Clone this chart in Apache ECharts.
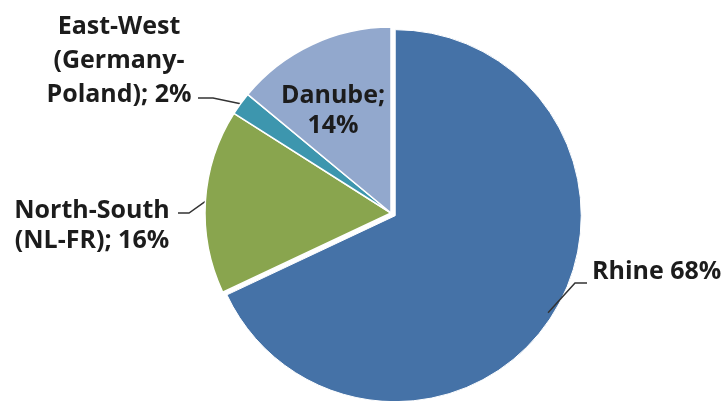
<!DOCTYPE html>
<html>
<head>
<meta charset="utf-8">
<script src="https://cdn.jsdelivr.net/npm/echarts@6/dist/echarts.min.js"></script>
<style>
  html, body { margin: 0; padding: 0; background: #fff; }
  #chart { width: 727px; height: 401px; }
</style>
</head>
<body>
<div id="chart"></div>
<script>
// corridors, clockwise from 12 o'clock
const corridors = ['Rhine', 'North-South', 'East-West', 'Danube']
const shares = [68, 16, 2, 14]
const labelTexts = [
  'Rhine 68%',
  'North-South\n(NL-FR); 16%',
  'East-West\n(Germany-\nPoland); 2%',
  'Danube;\n14%'
]
const colors = ['#4572A7', '#89A54E', '#3D96AE', '#92A8CD']

// where the labels sit and where their leader line ends
const labelSpots = [
  { x: 592, y: 272, align: 'left', end: [587, 283], turn: 12, lh: 30 },
  { x: 92, y: 226, align: 'center', end: [178, 213], turn: -11, lh: 30 },
  { x: 119, y: 61, align: 'center', end: [198, 98], turn: -15, lh: 34 },
  { x: 333, y: 111, align: 'center', lh: 30 }
]

const center = [391, 213]
const radius = 186
// Rhine slice is pulled out a little along its middle angle
const explode = 5
const total = shares.reduce((a, b) => a + b, 0)
const rhineMid = (90 - shares[0] / total * 180) * Math.PI / 180
const rhineCenter = [center[0] + explode * Math.cos(rhineMid), center[1] - explode * Math.sin(rhineMid)]

const chart = echarts.init(document.getElementById('chart'))

const base = {
  type: 'pie',
  radius: radius,
  startAngle: 90,
  clockwise: true,
  avoidLabelOverlap: false
}

chart.setOption({
  animation: false,
  series: [Object.assign({}, base, {
    center: center,
    z: 2,
    label: {
      show: true,
      position: 'outside',
      color: '#1c1c1c',
      fontFamily: 'Open Sans',
      fontWeight: 'bold',
      fontSize: 25,
      formatter: p => labelTexts[p.dataIndex]
    },
    labelLine: {
      show: true,
      length: 10,
      length2: 10,
      lineStyle: { color: '#333', width: 1.5 }
    },
    labelLayout: function (params) {
      const s = labelSpots[params.dataIndex]
      const out = { x: s.x, y: s.y, align: s.align, verticalAlign: 'middle' }
      if (s.end && params.labelLinePoints) {
        const start = params.labelLinePoints[0]
        out.labelLinePoints = [
          start,
          [s.end[0] - s.turn, s.end[1]],
          s.end
        ]
      }
      return out
    },
    data: corridors.map((name, i) => ({
      name: name,
      value: shares[i],
      itemStyle: i === 0
        ? { color: 'transparent', borderWidth: 0 }
        : { color: colors[i], borderColor: '#fff', borderWidth: 1.5 },
      label: { lineHeight: labelSpots[i].lh },
      labelLine: { show: i !== 3 }
    }))
  }), Object.assign({}, base, {
    center: rhineCenter,
    z: 1,
    silent: true,
    label: { show: false },
    labelLine: { show: false },
    data: corridors.map((name, i) => ({
      name: name,
      value: shares[i],
      itemStyle: i === 0
        ? { color: colors[0], borderColor: '#fff', borderWidth: 1 }
        : { color: 'transparent', borderWidth: 0 }
    }))
  })]
})
</script>
</body>
</html>
